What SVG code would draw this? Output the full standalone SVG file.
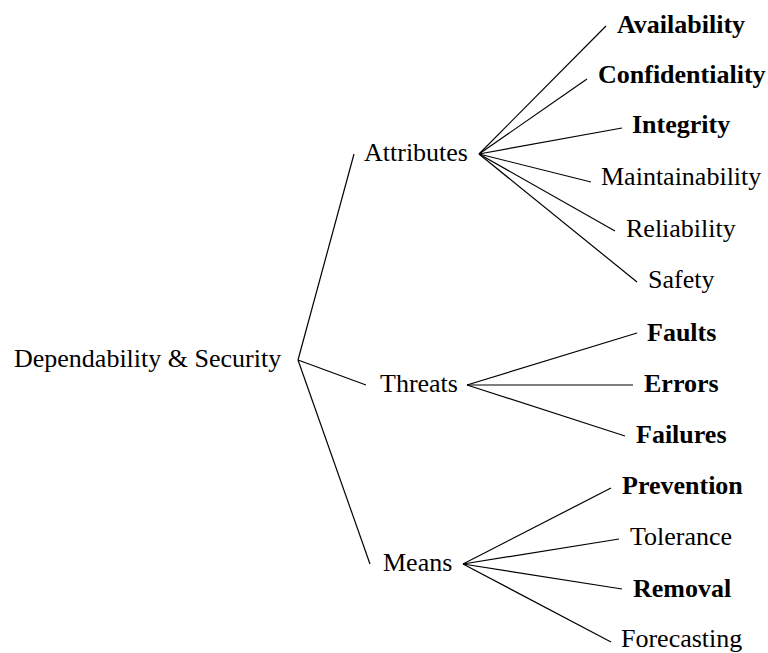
<svg xmlns="http://www.w3.org/2000/svg" width="768" height="653" viewBox="0 0 768 653">
<style>
text{font-family:"Liberation Serif","Times New Roman",serif;font-size:26px;fill:#000}
.b{font-weight:bold}
line{stroke:#000;stroke-width:1.2}
</style>
<rect width="768" height="653" fill="#fff"/>
<g id="connectors">
<line x1="298" y1="360" x2="354" y2="154"/>
<line x1="298" y1="360" x2="366" y2="385"/>
<line x1="298" y1="360" x2="370" y2="564"/>
<line x1="479" y1="154" x2="606" y2="26"/>
<line x1="479" y1="154" x2="587" y2="79"/>
<line x1="479" y1="154" x2="622" y2="128"/>
<line x1="479" y1="154" x2="591" y2="182"/>
<line x1="479" y1="154" x2="615" y2="231"/>
<line x1="479" y1="154" x2="637" y2="282"/>
<line x1="467" y1="385" x2="637" y2="333"/>
<line x1="467" y1="385" x2="633" y2="385"/>
<line x1="467" y1="385" x2="625" y2="436"/>
<line x1="463" y1="564" x2="611" y2="488"/>
<line x1="463" y1="564" x2="619" y2="539"/>
<line x1="463" y1="564" x2="622" y2="589"/>
<line x1="463" y1="564" x2="611" y2="642"/>
</g>
<g id="root"><text x="14" y="367">Dependability &amp; Security</text></g>
<g id="attributes"><text x="364" y="161">Attributes</text></g>
<g id="threats"><text x="380" y="392">Threats</text></g>
<g id="means"><text x="383" y="571">Means</text></g>
<g id="availability"><text class="b" x="617" y="33">Availability</text></g>
<g id="confidentiality"><text class="b" x="598" y="83">Confidentiality</text></g>
<g id="integrity"><text class="b" x="632" y="133">Integrity</text></g>
<g id="maintainability"><text x="601" y="185">Maintainability</text></g>
<g id="reliability"><text x="626" y="237">Reliability</text></g>
<g id="safety"><text x="648" y="288">Safety</text></g>
<g id="faults"><text class="b" x="647" y="341">Faults</text></g>
<g id="errors"><text class="b" x="644" y="392">Errors</text></g>
<g id="failures"><text class="b" x="636" y="443">Failures</text></g>
<g id="prevention"><text class="b" x="622" y="494">Prevention</text></g>
<g id="tolerance"><text x="630" y="545">Tolerance</text></g>
<g id="removal"><text class="b" x="633" y="597">Removal</text></g>
<g id="forecasting"><text x="621" y="647">Forecasting</text></g>
</svg>
